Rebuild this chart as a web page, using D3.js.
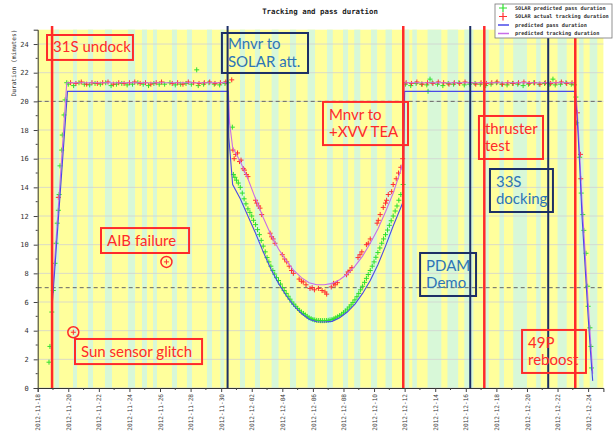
<!DOCTYPE html>
<html>
<head>
<meta charset="utf-8">
<script src="https://cdn.jsdelivr.net/npm/d3@7"></script>
<style>
  body { margin: 0; background: #fff; }
</style>
</head>
<body>
<div class="content"></div>
<script>
// day offsets from 2012-11-18 00:00 UTC
const startDay = Date.UTC(2012, 10, 18);
const toDate = (d) => new Date(startDay + d * 864e5);

const yTicks = [0, 2, 4, 6, 8, 10, 12, 14, 16, 18, 20, 22, 24];
const refLines = [20, 7];

// light green background bands [from, to]
const greenBands = [[1.1,1.4],[2.31,2.57],[3.29,3.62],[4.4,4.86],[5.9,6.37],[6.82,7.15],[7.54,7.8],
  [8.78,9.11],[9.76,10.09],[11.07,11.4],[11.95,12.2],[13.23,13.56],[14.21,14.54],[15.3,15.75],[16.5,16.9],
  [17.65,18.14],[18.92,19.3],[19.97,20.3],[20.7,21.1],[21.8,22.2],[22.75,23.17],[24.0,24.3],[24.5,24.8],
  [25.5,26.4],[26.8,27.5],[27.9,28.5],[29.2,29.5],[30.2,30.5],[31.1,32.0],[32.6,32.9],[34.0,34.6],
  [35.4,35.7],[36.1,36.6]];

const redEvents = [0.94, 23.91, 29.21, 35.16];
const navyEvents = [12.42, 28.29, 33.39];

// SOLAR predicted pass duration
const solarPass = [
  [0.74,1.8],[0.80,2.9],[0.92,5.3],[1.02,6.8],[1.13,8.7],[1.20,10.1],[1.28,11.5],[1.35,12.4],[1.40,13.5],
  [1.46,15.5],[1.57,16.6],[1.61,17.65],[1.72,19.05],[1.79,20.1],[1.90,21.3],
  [2.0,21.2],[2.35,21.1],[2.7,21.3],[3.05,21.2],[3.4,21.15],[3.75,21.25],[4.1,21.2],[4.45,21.3],[4.8,21.1],
  [5.15,21.2],[5.5,21.25],[5.85,21.15],[6.2,21.2],[6.55,21.3],[6.9,21.2],[7.25,21.1],[7.6,21.25],[7.95,21.2],
  [8.3,21.2],[8.65,21.3],[9.0,21.15],[9.35,21.2],[9.7,21.25],[10.05,21.2],[10.4,22.2],[10.5,21.1],[10.85,21.2],
  [11.2,21.3],[11.55,21.2],[11.9,21.15],[12.25,21.25],[12.45,21.3],
  [12.73,18.2],[12.8,14.9],[12.9,14.7],[13.0,14.5],[13.12,14.3],[13.25,14.0],[13.38,13.6],[13.5,13.2],[13.62,12.85],
  [13.75,12.5],[13.88,12.25],[14.0,12.0],[14.12,11.7],[14.25,11.4],[14.38,11.05],[14.5,10.7],[14.62,10.3],
  [14.75,9.9],[14.88,9.5],[15.0,9.1],[15.12,8.8],[15.25,8.5],[15.38,8.2],[15.5,7.95],[15.62,7.7],[15.75,7.5],
  [15.88,7.25],[16.0,7.0],[16.12,6.8],[16.25,6.6],[16.38,6.4],[16.5,6.2],[16.62,6.0],[16.75,5.85],[16.88,5.7],
  [17.0,5.55],[17.12,5.42],[17.25,5.3],[17.38,5.2],[17.5,5.1],[17.62,5.0],[17.75,4.9],[17.88,4.84],[18.0,4.78],
  [18.12,4.75],[18.25,4.72],[18.38,4.71],[18.5,4.7],[18.62,4.7],[18.75,4.7],[18.88,4.71],[19.0,4.72],[19.12,4.75],
  [19.25,4.78],[19.38,4.84],[19.5,4.9],[19.62,4.97],[19.75,5.05],[19.88,5.15],[20.0,5.25],[20.12,5.37],[20.25,5.5],
  [20.38,5.65],[20.5,5.8],[20.62,5.97],[20.75,6.15],[20.88,6.37],[21.0,6.6],[21.12,6.85],[21.25,7.1],[21.38,7.37],
  [21.5,7.65],[21.62,7.92],[21.75,8.2],[21.88,8.5],[22.0,8.8],[22.12,9.12],[22.25,9.45],[22.38,9.77],[22.5,10.1],
  [22.62,10.4],[22.75,10.7],[22.88,11.02],[23.0,11.35],[23.12,11.67],[23.25,12.0],[23.38,12.35],[23.5,12.7],
  [23.62,13.1],[23.75,13.5],[23.9,14.2],
  [24.05,21.2],[24.4,21.1],[24.75,21.25],[25.1,21.2],[25.45,21.15],[25.53,20.7],[25.66,21.55],[25.8,21.3],
  [26.15,21.2],[26.5,21.1],[26.85,21.25],[27.2,21.2],[27.55,21.3],[27.9,21.15],[28.25,21.2],[28.6,21.25],
  [28.95,21.2],[29.3,21.1],[29.65,21.2],[30.0,21.3],[30.35,21.2],[30.7,21.15],[31.05,21.25],[31.4,21.2],
  [31.75,21.1],[32.1,21.2],[32.45,21.3],[32.8,21.2],[33.15,21.25],[33.5,21.2],[33.7,21.55],[33.85,21.15],
  [34.2,21.2],[34.55,21.3],[34.9,21.2],[35.1,21.15],
  [35.2,20.3],[35.25,18.5],[35.45,16.1],[35.55,13.6],[35.65,12.1],[35.72,11.0],[35.86,9.4],[35.97,7.1],
  [36.0,5.7],[36.12,4.2],[36.18,2.9],[36.22,1.4]
];

// SOLAR actual tracking duration
const solarTrack = [
  [1.35,13.3],[2.33,3.89],
  [2.15,21.3],[2.5,21.25],[2.85,21.35],[3.2,21.2],[3.55,21.3],[3.9,21.25],[4.25,21.3],[4.6,21.35],[4.95,21.2],
  [5.3,21.3],[5.65,21.25],[6.0,21.3],[6.35,21.35],[6.7,21.25],[7.05,21.3],[7.4,21.2],[7.75,21.3],[8.1,21.35],
  [8.42,8.8],[8.8,21.25],[9.15,21.3],[9.5,21.2],[9.85,21.35],[10.2,21.3],[10.55,21.25],[10.9,21.3],[11.25,21.35],
  [11.6,21.25],[11.95,21.3],[12.3,21.35],[12.69,21.5],
  [12.77,16.6],[12.85,16.0],[12.95,16.3],[13.07,16.4],[13.2,15.8],[13.3,15.9],[13.45,15.3],[13.52,15.2],
  [13.65,14.9],[13.75,14.75],[14.25,13.1],[14.33,12.9],[14.45,12.7],[14.54,12.55],[14.65,12.1],
  [15.2,10.8],[15.3,10.55],[15.4,10.4],[15.52,10.1],[16.0,9.3],[16.15,9.0],[16.29,8.8],[16.45,8.5],[16.6,8.2],
  [16.72,8.0],[17.1,7.6],[17.25,7.45],[17.37,7.4],[17.55,7.2],[17.81,6.95],[17.95,7.0],[18.1,6.85],[18.36,6.95],
  [18.6,6.8],[18.79,6.7],[18.9,6.55],[19.2,7.05],[19.35,7.3],[19.45,7.2],[19.6,7.35],[20.2,7.9],[20.3,8.1],
  [20.43,8.2],[20.55,8.4],[20.95,9.1],[21.08,9.3],[21.2,9.5],[21.5,10.0],[21.62,10.1],[21.75,10.4],
  [22.2,11.5],[22.28,11.7],[22.4,12.1],[22.6,12.6],[22.75,12.9],[22.82,13.1],[22.93,13.5],[23.15,13.7],
  [23.25,14.2],[23.45,14.6],[23.6,15.0],[23.75,15.4],[23.87,16.0],
  [24.1,21.3],[24.45,21.25],[24.8,21.35],[25.15,21.2],[25.5,21.3],[25.85,21.25],[26.2,21.35],[26.55,21.3],
  [26.9,21.2],[27.25,21.3],[27.6,21.25],[27.95,21.35],[28.3,21.3],[28.65,21.2],[29.0,21.3],[29.35,21.25],
  [29.7,21.3],[30.05,21.35],[30.4,21.2],[30.75,21.3],[31.1,21.25],[31.45,21.3],[31.8,21.35],[32.15,21.25],
  [32.5,21.3],[32.85,21.2],[33.2,21.3],[33.55,21.25],[33.9,21.3],[34.25,21.35],[34.6,21.25],[34.95,21.3],
  [35.3,19.2],[35.5,16.3],[35.52,14.6]
];

// predicted pass duration
const predPass = [
  [0.93,5.5],[1.95,20.7],[12.45,20.7],[12.5,17.5],[12.75,14.2],[13.25,13.2],[13.75,12.0],[14.25,10.8],
  [14.75,9.5],[15.25,8.3],[15.75,7.3],[16.25,6.45],[16.75,5.75],[17.25,5.2],[17.75,4.8],[18.25,4.62],
  [18.75,4.6],[19.25,4.65],[19.75,4.9],[20.25,5.3],[20.75,5.85],[21.25,6.6],[21.75,7.5],[22.25,8.6],
  [22.75,9.9],[23.25,11.3],[23.75,12.6],[23.9,13.0],[24.0,20.7],[35.15,20.7],[35.3,18.6],[35.45,15.5],
  [35.6,12.0],[35.8,8.5],[36.0,5.0],[36.15,2.6],[36.3,0.5]
];

// predicted tracking duration
const predTrack = [
  [0.93,6.0],[1.9,21.3],[12.45,21.3],[12.55,18.5],[12.75,16.8],[13.25,15.8],[13.75,14.6],[14.25,13.2],
  [14.75,11.9],[15.25,10.7],[15.75,9.7],[16.25,8.9],[16.75,8.2],[17.25,7.7],[17.75,7.35],[18.25,7.2],
  [18.75,7.2],[19.25,7.3],[19.75,7.55],[20.25,7.95],[20.75,8.5],[21.25,9.2],[21.75,10.1],[22.25,11.1],
  [22.75,12.3],[23.25,13.6],[23.75,15.2],[23.9,15.8],[23.95,21.3],[35.15,21.3],[35.3,19.2],[35.45,16.3],
  [35.6,13.0],[35.8,9.5],[36.0,6.0],[36.15,3.5],[36.3,1.0]
];

const legendLabels = ['SOLAR predicted pass duration', 'SOLAR actual tracking duration',
                      'predicted pass duration', 'predicted tracking duration'];

// annotation boxes: day range, value range, text lines
const notes = [
  { lines: ['31S undock'], kind: 'red', x0: 0.61, x1: 6.23, y0: 24.63, y1: 22.89 },
  { lines: ['Mnvr to', 'SOLAR att.'], kind: 'navy', x0: 12.05, x1: 17.68, y0: 24.77, y1: 21.98 },
  { lines: ['Mnvr to', '+XVV TEA'], kind: 'red', x0: 18.66, x1: 24.22, y0: 19.96, y1: 16.95 },
  { lines: ['thruster', 'test'], kind: 'red', x0: 28.86, x1: 33.05, y0: 18.98, y1: 15.98 },
  { lines: ['33S', 'docking'], kind: 'navy', x0: 29.58, x1: 33.7, y0: 15.28, y1: 12.28 },
  { lines: ['AIB failure'], kind: 'red', x0: 4.14, x1: 9.9, y0: 11.16, y1: 9.42 },
  { lines: ['Sun sensor glitch'], kind: 'red', x0: 2.44, x1: 10.75, y0: 3.42, y1: 1.67 },
  { lines: ['PDAM', 'Demo'], kind: 'navy', x0: 25.01, x1: 28.67, y0: 9.42, y1: 6.42 },
  { lines: ['49P', 'reboost'], kind: 'red', x0: 31.68, x1: 35.86, y0: 4.05, y1: 1.05 }
];
const circled = [[8.42, 8.8], [2.33, 3.89]];

const W = 613, H = 433;
const RED = '#ff2a2a', NAVY = '#1c2f66', BLUE_TXT = '#2e75b6';
const MONO = '"DejaVu Sans Mono", monospace';

const svg = d3.select('div.content').append('svg')
  .attr('width', W).attr('height', H);

const x = d3.scaleUtc().domain([toDate(0), toDate(37)]).range([37.7, 603.4]);
const y = d3.scaleLinear().domain([0, 25]).range([388, 29.7]);

// background
svg.append('rect')
  .attr('x', x.range()[0]).attr('y', y(25))
  .attr('width', x.range()[1] - x.range()[0]).attr('height', y(0) - y(25))
  .attr('fill', '#ffff9c');

svg.selectAll('rect.band')
  .data(greenBands)
  .enter().append('rect')
  .attr('class', 'band')
  .attr('x', (d) => x(toDate(d[0])))
  .attr('width', (d) => Math.min(x(toDate(d[1])), x.range()[1]) - x(toDate(d[0])))
  .attr('y', y(25)).attr('height', y(0) - y(25))
  .attr('fill', '#d8f8d8');

// grid
svg.selectAll('line.grid')
  .data(yTicks)
  .enter().append('line')
  .attr('x1', x.range()[0]).attr('x2', x.range()[1])
  .attr('y1', (d) => y(d)).attr('y2', (d) => y(d))
  .attr('stroke', '#d2d2d2').attr('stroke-width', 0.8);

svg.selectAll('line.ref')
  .data(refLines)
  .enter().append('line')
  .attr('x1', x.range()[0]).attr('x2', x.range()[1])
  .attr('y1', (d) => y(d)).attr('y2', (d) => y(d))
  .attr('stroke', '#666').attr('stroke-width', 1)
  .attr('stroke-dasharray', '4,3');

// markers
const plus = (g, data, color, s) => {
  g.selectAll('path')
    .data(data)
    .enter().append('path')
    .attr('d', (d) => {
      const px = x(toDate(d[0])), py = y(d[1]);
      return `M${px - s},${py}H${px + s}M${px},${py - s}V${py + s}`;
    })
    .attr('stroke', color).attr('stroke-width', 1).attr('fill', 'none');
};
plus(svg.append('g'), solarPass, '#2de02d', 2.5);
plus(svg.append('g'), solarTrack, '#ff3030', 2.5);

// lines
const line = d3.line().x((d) => x(toDate(d[0]))).y((d) => y(d[1]));
svg.append('path').datum(predTrack)
  .attr('d', line).attr('fill', 'none').attr('stroke', '#c86ee8').attr('stroke-width', 1.1);
svg.append('path').datum(predPass)
  .attr('d', line).attr('fill', 'none').attr('stroke', '#4a4ae8').attr('stroke-width', 1.1);

// event lines
svg.selectAll('line.redev')
  .data(redEvents)
  .enter().append('line')
  .attr('x1', (d) => x(toDate(d))).attr('x2', (d) => x(toDate(d)))
  .attr('y1', 26).attr('y2', y(0))
  .attr('stroke', RED).attr('stroke-width', 2.5);
svg.selectAll('line.navyev')
  .data(navyEvents)
  .enter().append('line')
  .attr('x1', (d) => x(toDate(d))).attr('x2', (d) => x(toDate(d)))
  .attr('y1', 26).attr('y2', y(0))
  .attr('stroke', NAVY).attr('stroke-width', 2);

// axes
const yAxis = d3.axisLeft(y).tickValues(yTicks).tickSize(4).tickPadding(5);
const gy = svg.append('g').attr('transform', `translate(${x.range()[0]},0)`).call(yAxis);
gy.selectAll('line.minor')
  .data(d3.range(1, 25, 2))
  .enter().append('line')
  .attr('x1', -2).attr('x2', 0)
  .attr('y1', (d) => y(d)).attr('y2', (d) => y(d))
  .attr('stroke', '#444');

const evenDays = d3.utcDay.filter((d) => d.getUTCDate() % 2 === 0);
const xAxis = d3.axisBottom(x)
  .ticks(evenDays)
  .tickFormat(d3.utcFormat('%Y-%m-%d'))
  .tickSize(4);
const gx = svg.append('g').attr('transform', `translate(0,${y(0)})`).call(xAxis);
gx.selectAll('line.minor')
  .data(d3.utcDay.range(toDate(0), toDate(37)).filter((d) => d.getUTCDate() % 2 === 1))
  .enter().append('line')
  .attr('x1', (d) => x(d)).attr('x2', (d) => x(d))
  .attr('y1', 0).attr('y2', 2)
  .attr('stroke', '#444');
gx.selectAll('.tick text')
  .attr('transform', 'rotate(-90)')
  .attr('text-anchor', 'end')
  .attr('x', -6).attr('y', 0).attr('dy', '0.35em');

[gx, gy].forEach((g) => {
  g.select('.domain').attr('stroke', '#333');
  g.selectAll('.tick line').attr('stroke', '#444');
  g.selectAll('text').attr('font-family', MONO).attr('fill', '#333');
});
gx.selectAll('text').attr('font-size', 6.1);
gy.selectAll('text').attr('font-size', 7);

// titles
svg.append('text')
  .attr('x', 320).attr('y', 14)
  .attr('text-anchor', 'middle')
  .attr('font-family', MONO)
  .attr('font-size', 7.4).attr('font-weight', 'bold').attr('fill', '#222')
  .text('Tracking and pass duration');

svg.append('text')
  .attr('transform', 'translate(16,63) rotate(-90)')
  .attr('text-anchor', 'middle')
  .attr('font-family', MONO)
  .attr('font-size', 6.2).attr('fill', '#333')
  .text('Duration (minutes)');

// annotations
const ng = svg.selectAll('g.note')
  .data(notes)
  .enter().append('g').attr('class', 'note');
ng.append('rect')
  .attr('x', (d) => x(toDate(d.x0))).attr('y', (d) => y(d.y0))
  .attr('width', (d) => x(toDate(d.x1)) - x(toDate(d.x0)))
  .attr('height', (d) => y(d.y1) - y(d.y0))
  .attr('fill', 'none')
  .attr('stroke', (d) => d.kind === 'red' ? RED : NAVY)
  .attr('stroke-width', 2);
ng.each(function (d) {
  const g = d3.select(this);
  const top = y(d.y0), left = x(toDate(d.x0));
  const n = d.lines.length;
  const h = y(d.y1) - y(d.y0);
  d.lines.forEach((t, i) => {
    g.append('text')
      .attr('x', left + 6)
      .attr('y', top + h / 2 + (i - (n - 1) / 2) * 17.5 + 5)
      .attr('font-family', 'Lato, "Open Sans", sans-serif')
      .attr('font-size', 15)
      .attr('fill', d.kind === 'red' ? RED : BLUE_TXT)
      .text(t);
  });
});

svg.selectAll('circle.mark')
  .data(circled)
  .enter().append('circle')
  .attr('cx', (d) => x(toDate(d[0]))).attr('cy', (d) => y(d[1]))
  .attr('r', 5.5)
  .attr('fill', 'none').attr('stroke', RED).attr('stroke-width', 1.5);

// legend
const lg = svg.append('g').attr('transform', 'translate(495,4)');
lg.append('rect').attr('width', 117).attr('height', 34)
  .attr('fill', '#fff').attr('stroke', '#777').attr('stroke-width', 0.8);
const lrow = lg.selectAll('g.row')
  .data(legendLabels)
  .enter().append('g')
  .attr('transform', (d, i) => `translate(0,${4 + i * 8.5})`);
lrow.append('text')
  .attr('x', 20).attr('y', 0).attr('dy', '0.35em')
  .attr('font-family', MONO)
  .attr('font-size', 5.2).attr('font-weight', 'bold').attr('fill', '#333')
  .text((d) => d);
lrow.filter((d, i) => i < 2).append('path')
  .attr('d', 'M4,0H12M8,-4V4')
  .attr('stroke', (d, i) => i === 0 ? '#2de02d' : '#ff3030')
  .attr('stroke-width', 1.2);
lrow.filter((d, i) => i >= 2).append('path')
  .attr('d', 'M3,0H14')
  .attr('stroke', (d, i) => i === 0 ? '#4a4ae8' : '#c86ee8')
  .attr('stroke-width', 1.5);
</script>
</body>
</html>
